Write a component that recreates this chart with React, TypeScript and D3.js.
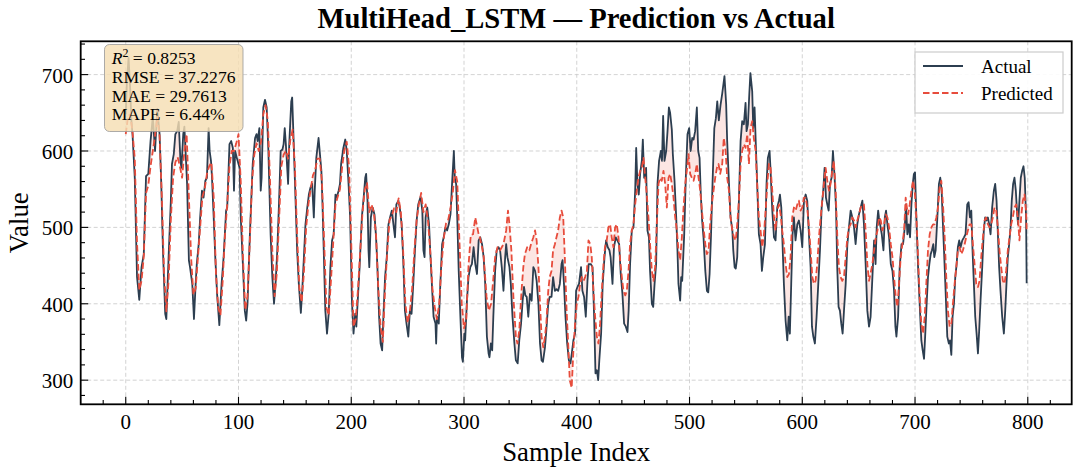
import * as d3 from 'd3';

// [sample index, value]
const actual: [number, number][] = [
  [0, 648], [1, 690], [2.5, 722], [4, 680], [5, 640], [6, 622], [8, 565], [10, 435], [12, 405], [14, 448], [16, 465], [18, 567], [20, 570], [22, 613], [24, 645], [26, 600], [28, 655], [30, 622], [31.5, 557], [33, 470], [35, 387], [36, 380], [38, 461], [40, 535], [41, 583], [42.6, 596], [44, 622], [45.6, 626], [47, 638], [48.5, 587], [49.4, 578], [51, 622], [52, 632], [54.4, 557], [56, 457], [57, 448], [59, 426], [60.5, 380],
  [62, 426], [63, 452], [64.7, 478], [66, 513], [67.6, 548], [69, 539], [70.6, 561], [72, 565], [73.5, 630], [74.4, 600], [75.6, 587], [76.5, 565], [78, 513], [79.4, 461], [81, 413], [83, 372], [85, 426], [86.8, 461], [89, 522], [90, 526], [92, 609], [93.5, 613], [95, 604], [96, 548], [97, 600], [98.5, 591], [100, 583], [101, 578], [102, 513], [104, 448], [105.6, 391], [106.8, 378], [108, 400], [110, 487], [112.6, 583], [114.7, 617], [116, 622], [117, 613], [118.5, 630], [119.7, 548], [120.5, 565], [122, 657], [123.5, 667], [125, 657], [126.5, 600], [128.5, 490],
  [130, 435], [131.5, 400], [133, 430], [134.4, 470], [136, 535], [137.4, 600], [139, 602], [140, 609], [141, 630], [142, 609], [144, 557], [145, 609], [146.8, 665], [147.6, 670], [149, 609], [150.6, 535], [152, 470], [153.5, 426], [155.3, 388], [156.5, 417], [158, 461], [159.4, 504], [161, 526], [162.4, 543], [163.8, 552], [165.3, 557], [166.8, 513], [167.6, 548], [169, 591], [171, 617], [172, 600], [173.5, 574], [174.4, 535], [175.6, 470], [177, 391], [178.5, 361], [180, 387], [181.5, 448], [183, 483], [184.4, 491], [186, 543], [187, 539], [188.8, 548], [190, 557], [191, 583], [193, 604], [194.7, 615], [196, 600], [197.6, 557], [199, 513],
  [200.6, 404], [202, 361], [203.5, 387], [204.5, 370], [205.6, 400], [207.4, 448], [209.4, 513], [211, 539], [212.4, 565], [213.2, 570], [214.4, 535], [215.3, 470], [216, 448], [217.4, 513], [219, 526], [220.6, 517], [222, 487], [223.2, 448], [224.7, 383], [226, 348], [227.4, 339], [228.5, 383], [230, 435], [231.5, 461], [233, 504], [234.4, 513], [236, 522], [237.4, 504], [238.8, 487], [240, 530], [241.8, 535], [243, 526], [244.7, 504], [246, 461], [247.6, 391], [249, 374], [250.6, 357], [252, 391], [253.5, 387], [255, 426], [256.5, 470], [258, 509], [259.4, 530], [261.5, 540],
  [263, 522], [264, 470], [265, 461], [266, 513], [267.4, 526], [269, 504], [270, 470], [271.8, 417], [273, 383], [274.7, 374], [275.3, 348], [276, 383], [277.6, 374], [279, 426], [280.6, 478], [282, 487], [283.5, 500], [285, 496], [286.5, 504], [288, 517], [289.4, 557], [291, 600], [291.8, 565], [293, 557], [294, 513], [295.3, 443], [296.8, 383], [298.2, 330], [299, 324], [300.3, 361], [301, 352], [302.6, 404], [304, 435], [305.6, 448], [307, 452], [308.5, 474], [310, 452], [311.5, 439], [313, 483], [314.4, 487], [316, 478], [317.4, 461], [318.8, 426], [320.3, 357], [321.8, 335], [322.6, 330], [323.8, 348], [325, 339], [326, 383], [327.6, 443], [329, 470], [330.6, 474], [332, 470], [333.5, 448], [335, 417], [336.5, 461], [337.4, 478], [338.5, 461], [340.3, 448], [341.5, 426], [343, 383], [344.7, 348], [346, 326], [347.6, 322], [349, 352],
  [350.6, 374], [352, 404], [353.2, 422], [354.4, 411], [355.6, 409], [357, 383], [358.5, 413], [360, 404], [361.5, 448], [363, 443], [364.4, 430], [366, 400], [367.4, 348], [368.8, 326], [370, 324], [371.8, 343], [373, 365], [374.7, 400], [376, 409], [377.6, 409], [379, 435], [380.6, 417], [382, 419], [383.5, 417], [385, 426], [386.5, 452], [387.4, 457], [388.8, 422], [390, 383], [391.5, 348], [393, 326], [394.4, 322], [395.6, 335], [397, 352], [398.5, 361], [399.4, 417],
  [400.6, 422], [402, 426], [403.8, 448], [405, 417], [406.5, 409], [408, 383], [409.5, 430], [410.6, 452], [412.4, 452], [414, 448], [415.4, 383], [416.6, 309], [417.8, 313], [419, 300], [420, 326], [421.6, 361], [423, 426], [424.6, 461], [426, 483], [427.5, 474], [429, 470], [430, 461], [431.7, 426], [433, 474], [434.6, 487], [436, 483], [437.6, 478], [439, 439], [440.5, 413], [442, 374], [443.5, 370], [445, 363], [446, 391], [447.3, 452], [448.8, 496],
  [450.3, 500], [451.8, 548], [452.7, 604], [453.8, 557], [455, 543], [456.2, 570], [457.7, 587], [458.6, 615], [459.8, 565], [461.5, 578], [462.7, 496], [464, 487], [465, 443], [466.6, 400], [467.8, 396], [469, 426], [470.4, 452], [471.6, 557], [473, 587], [474.6, 600], [475.6, 587], [476.6, 646], [477.8, 587], [479.3, 600], [480.5, 626], [481.7, 657], [482.8, 650], [484.3, 628], [485.2, 596], [486.7, 561], [488.2, 513], [489.3, 470], [490.2, 426], [491.7, 404], [492.6, 435], [493.5, 430], [495.3, 491], [496.7, 565], [498.2, 622], [499.7, 630],
  [501, 600], [502.4, 617], [503.6, 615], [505, 626], [506.5, 657], [507.7, 600], [508.9, 591], [510, 543], [511.2, 509], [512.4, 487], [514, 443], [515.4, 417], [516.6, 415], [517.8, 439], [519, 487], [520.4, 557], [522, 630], [523.4, 643], [524.6, 665], [526, 640], [527.5, 660], [529, 675], [531, 698], [532.5, 661], [533.4, 613], [535, 557], [536.4, 513], [538, 496], [538.8, 470], [540, 448], [541, 446], [542.3, 461], [543.8, 535], [545.3, 613], [546.7, 639], [548.2, 635], [549.7, 663],
  [550.6, 626], [551.8, 635], [553, 674], [554, 702], [555.6, 678], [556.5, 630], [557.7, 657], [559, 600], [560, 557], [561.5, 491], [563, 478], [564.2, 443], [565.4, 461], [566.9, 478], [568.3, 557], [569.5, 591], [571, 600], [571.9, 574], [573.4, 522], [574.9, 487], [576.3, 483], [577.8, 526], [579.3, 535], [580.2, 543], [581.4, 526], [582.5, 478], [583.7, 426], [585.2, 378], [586.7, 352], [587.9, 383], [589, 361], [590.2, 426], [591.4, 491], [592.6, 513], [594, 483], [595.6, 504], [597, 509], [598.5, 496],
  [600, 474], [601.5, 535], [603, 543], [604.4, 535], [605.9, 491], [607.4, 448], [608.6, 370], [609.8, 357], [611.2, 348], [612.7, 383], [614.2, 426], [615.7, 470], [617.2, 526], [618.6, 548], [619.8, 578], [621, 539], [622.2, 530], [623.4, 522], [624.6, 557], [626, 565], [627.2, 600], [628.7, 565], [630, 522], [631, 448], [632.2, 396], [633.4, 391], [634.6, 374], [635.8, 361], [637, 391], [638.5, 426], [640, 478], [641.4, 500], [642.9, 522], [644.4, 513], [645.9, 500], [647.3, 478], [648.8, 504],
  [650.3, 517], [651.8, 526], [653.3, 535], [654.7, 504], [656.2, 452], [657.7, 391], [659.2, 370], [660.6, 383], [662.2, 435], [663.7, 483], [665, 452], [666, 500], [667.3, 522], [668, 513], [669, 504], [670.5, 491], [672, 470], [673.2, 513], [674.3, 522], [675.5, 504], [677, 487], [678.5, 452], [680, 443], [681.4, 417], [682.6, 370], [683.5, 357], [685, 383], [686.4, 448], [688, 478], [689.4, 478], [690.9, 500], [692, 530], [693.2, 491], [694.4, 504], [695.6, 487], [696.8, 530], [698, 557], [699, 570],
  [700, 572], [701.2, 513], [702.7, 448], [704.1, 400], [705.6, 352], [706.8, 339], [708, 328], [709.1, 361], [710.3, 400], [711.5, 435], [712.7, 452], [713.9, 465], [715, 470], [716.2, 478], [717.1, 461], [718.3, 470], [719.8, 513], [721.2, 557], [722.4, 565], [723.6, 548], [724.5, 513], [725.7, 470], [727.1, 417], [728.6, 357], [730, 348], [731, 352], [732.2, 333], [733.3, 383], [734.5, 400], [735.7, 435], [736.9, 452], [738, 474], [739.2, 483], [740.4, 474], [741.9, 483], [743.4, 487], [744.8, 491], [746.3, 530], [747.5, 533], [748.7, 513],
  [749.9, 522], [751, 470], [752.2, 426], [753.4, 383], [754.6, 361], [755.8, 335], [756.9, 365], [758.1, 404], [759.6, 448], [761, 496], [762.2, 513], [763.4, 509], [764.6, 513], [765.8, 504], [767, 491], [768.4, 526], [769.9, 548], [771.1, 557], [772.3, 535], [773.5, 491], [774.6, 448], [775.8, 417], [777.3, 383], [778.8, 361], [780, 391], [781.1, 426], [782.3, 461], [783.5, 478], [784.7, 500], [785.8, 535], [787, 557], [788.2, 565], [789.4, 548], [790.6, 517], [791.4, 504], [792.6, 535], [793.8, 565], [795, 574], [796.2, 580], [797.3, 565], [798.5, 513], [799, 427],
];

const predicted: [number, number][] = [
  [0, 622], [2, 645], [4, 648], [6, 625], [8, 590], [10, 480], [12, 418], [14, 430], [16, 462], [18, 545], [20, 555], [22, 580], [24, 600], [26, 620], [28, 645], [30, 620], [32, 540], [34, 440], [36, 390], [38, 430], [40, 510], [42, 565], [44, 585], [46, 592], [48, 580], [50, 565], [52, 600], [54, 622], [56, 540], [58, 460], [60, 412], [62, 420], [64, 460], [66, 500], [68, 540], [70, 550], [72, 570], [74, 580], [76, 585], [78, 540], [80, 440], [82, 395], [84, 385], [86, 430], [88, 490], [90, 530], [92, 580], [94, 600], [96, 600], [98, 610],
  [100, 622], [102, 560], [104, 460], [106, 392], [108, 410], [110, 480], [112, 560], [114, 595], [116, 610], [118, 600], [120, 612], [122, 648], [124, 660], [126, 640], [128, 560], [130, 470], [132, 410], [134, 440], [136, 510], [138, 580], [140, 595], [142, 600], [144, 590], [146, 615], [148, 628], [150, 580], [152, 490], [154, 420], [156, 402], [158, 440], [160, 500], [162, 530], [164, 550], [166, 568], [168, 575], [170, 590], [172, 590], [174, 560], [176, 480], [178, 395], [180, 385], [182, 430], [184, 480], [186, 530], [188, 540], [190, 550], [192, 580], [194, 602], [196, 612], [198, 580],
  [200, 480], [202, 370], [204, 380], [206, 420], [208, 470], [210, 520], [212, 550], [214, 558], [216, 520], [218, 530], [220, 520], [222, 490], [224, 420], [226, 370], [228, 350], [230, 420], [232, 470], [234, 510], [236, 515], [238, 525], [240, 520], [242, 538], [244, 520], [246, 470], [248, 400], [250, 375], [252, 390], [254, 420], [256, 470], [258, 510], [260, 530], [262, 545], [264, 520], [266, 530], [268, 510], [270, 470], [272, 420], [274, 396], [276, 380], [278, 400], [280, 450], [282, 485], [284, 505], [286, 510], [288, 525], [290, 545], [292, 575], [294, 560], [296, 480], [298, 400],
  [300, 368], [302, 380], [304, 450], [306, 490], [308, 491], [310, 513], [313, 491], [314, 487], [316, 474], [317.5, 461], [320, 409], [322, 391], [324, 400], [325.6, 426], [327.6, 461], [329.7, 474], [332, 470], [335, 478], [337.4, 496], [339, 522], [340.3, 504], [342, 470], [343.8, 409], [346, 357], [347.4, 348], [349, 365], [351, 417], [352.6, 448], [354, 465], [356, 474], [358, 470], [359.4, 478], [361.5, 487], [363, 496], [364.4, 483], [366, 448], [367.4, 400], [368.8, 357], [370.3, 343], [371.8, 357], [373, 374], [374.7, 417], [376, 435], [377.6, 443], [379, 470], [380.6, 478], [382, 487], [383.5, 496], [385, 513], [386.5, 522], [388, 513], [389.4, 461], [391, 391], [392.4, 348], [393.8, 300], [395.5, 290], [397, 339], [398.5, 374],
  [400, 400], [401.5, 409], [403, 426], [404.4, 435], [406, 430], [407.4, 435], [409, 443], [410.4, 483], [412, 478], [413.3, 461], [414.8, 417], [416.3, 383], [417.8, 357], [419.2, 348], [420.7, 374], [422.2, 417], [423.7, 452], [425, 474], [426.6, 483], [428, 500], [429.6, 504], [431, 487], [432.5, 474], [434, 500], [435.5, 504], [437, 487], [438.5, 457], [440, 435], [441.4, 417], [443, 411], [444.4, 417], [445.9, 443], [447.3, 478], [448.8, 496],
  [450.3, 504], [451.8, 530], [453.2, 548], [454.7, 565], [456.2, 574], [457.7, 578], [459.2, 591], [460.7, 565], [462.1, 543], [463.6, 513], [465, 478], [466.6, 443], [468, 430], [469.5, 448], [471, 504], [472.5, 557], [474, 565], [475.4, 561], [476.9, 574], [478.4, 557], [479.9, 526], [481.4, 565], [482.8, 570], [484.3, 557], [485.8, 539], [487.3, 513], [488.8, 496], [490.2, 470], [491.7, 457], [493.2, 487], [494.7, 526], [496.2, 557], [497.6, 574], [499.1, 596],
  [500.6, 570], [502, 565], [503.6, 561], [505, 570], [506.5, 583], [508, 565], [509.5, 548], [511, 522], [512.4, 500], [514, 478], [515.4, 465], [516.9, 470], [518.3, 504], [519.8, 530], [521.3, 548], [522.8, 565], [524.3, 578], [525.7, 583], [527.2, 570], [529, 583], [530.4, 617], [532, 600], [533.4, 565], [535, 548], [536.4, 513], [538, 496], [539.4, 487], [541, 483], [542.3, 504], [543.8, 535], [545.3, 583], [546.7, 600], [548.2, 609], [549.7, 604],
  [551.2, 622], [552.7, 583], [554.1, 630], [555.6, 639], [557, 617], [558.6, 600], [560, 557], [561.5, 513], [563, 496], [564.5, 474], [566, 491], [567.5, 522], [569, 557], [570.4, 583], [571.9, 578], [573.4, 548], [574.9, 513], [576.3, 496], [577.8, 522], [579.3, 530], [580.8, 517], [582.2, 496], [583.7, 478], [585.2, 452], [586.7, 435], [588.2, 439], [589.6, 461], [591.1, 513], [592.6, 526], [594.1, 522], [595.6, 530], [597, 535], [598.5, 522],
  [600, 526], [601.5, 539], [603, 539], [604.4, 526], [605.9, 500], [607.4, 470], [608.9, 435], [610.4, 426], [611.8, 430], [613.3, 452], [614.8, 487], [616.3, 513], [617.7, 535], [619.2, 557], [620.7, 578], [622.2, 561], [623.7, 548], [625.1, 557], [626.6, 574], [628, 587], [629.6, 548], [631.1, 487], [632.5, 448], [634, 435], [635.5, 430], [637, 435], [638.5, 461], [640, 487], [641.4, 500], [642.9, 504], [644.4, 513], [645.9, 509], [647.3, 500], [648.8, 509],
  [650.3, 517], [651.8, 526], [653.3, 530], [654.7, 530], [656.2, 496], [657.7, 452], [659.2, 430], [660.6, 440], [662.2, 452], [663.7, 470], [665.2, 487], [666.7, 496], [668.1, 513], [669.6, 509], [671, 496], [672.6, 504], [674, 517], [675.5, 513], [677, 500], [678.5, 478], [680, 461], [681.4, 435], [682.9, 409], [684.4, 396], [685.8, 426], [687.3, 461], [688.8, 478], [690.3, 496], [691.7, 539], [692.8, 526], [693.8, 517], [695.3, 530], [696.8, 548], [698.2, 561], [699.7, 548],
  [701.2, 513], [702.7, 461], [704.1, 409], [705.6, 374], [707.1, 361], [708.6, 383], [710, 426], [711.5, 470], [713, 491], [714.5, 500], [716, 504], [717.4, 504], [718.9, 513], [720.4, 526], [721.8, 552], [723.3, 561], [724.8, 530], [726.3, 487], [727.7, 435], [729.2, 391], [730.7, 370], [732.2, 374], [733.6, 400], [735.1, 426], [736.6, 448], [738, 470], [739.5, 474], [741, 465], [742.5, 470], [744, 478], [745.4, 487], [746.9, 496], [748.4, 504],
  [749.9, 504], [751.3, 478], [752.8, 452], [754.3, 426], [755.8, 422], [757.2, 430], [758.7, 461], [760.2, 487], [761.7, 509], [763.1, 513], [764.6, 504], [766.1, 500], [767.6, 504], [769, 513], [770.5, 526], [772, 522], [773.5, 500], [774.9, 470], [776.4, 448], [777.9, 430], [779.4, 426], [780.8, 443], [782.3, 470], [783.8, 487], [785.3, 504], [786.7, 513], [788.2, 526], [789.7, 530], [791.2, 513], [792.6, 483], [794.1, 513], [795.6, 535], [797.1, 543], [798.5, 522], [799, 496],
];

const xTickValues = [0, 100, 200, 300, 400, 500, 600, 700, 800];
const yTickValues = [300, 400, 500, 600, 700];
const metrics = { r2: '0.8253', rmse: '37.2276', mae: '29.7613', mape: '6.44%' };

const FONT = '"Liberation Serif", "Times New Roman", Times, serif';
const ACTUAL_COLOR = '#2c3e50';
const PRED_COLOR = '#e74c3c';

export default function App() {
  const width = 1080;
  const height = 474;
  const margin = { top: 41.3, right: 8.3, bottom: 69.7, left: 80.7 };
  const x0 = margin.left;
  const x1 = width - margin.right;
  const y0 = margin.top;
  const y1 = height - margin.bottom;

  // matplotlib-like 5% margins around the data
  const nSamples = 799;
  const allValues = [...actual, ...predicted].map((d) => d[1]);
  const vMin = d3.min(allValues)!;
  const vMax = d3.max(allValues)!;
  const vPad = (vMax - vMin) * 0.05;

  const x = d3.scaleLinear().domain([-nSamples * 0.05, nSamples * 1.05]).range([x0, x1]);
  const y = d3.scaleLinear().domain([vMin - vPad, vMax + vPad]).range([y1, y0]);

  const line = d3
    .line<[number, number]>()
    .x((d) => x(d[0]))
    .y((d) => y(d[1]));

  // region between the two curves: actual forward, predicted back
  const band = line([...actual, ...predicted.slice().reverse()]) + 'Z';

  const [dx0, dx1] = x.domain();
  const [dy0, dy1] = y.domain();
  const xMinor = d3.range(-20, 841, 20).filter((v) => v % 100 !== 0 && v > dx0 && v < dx1);
  const yMinor = d3.range(280, 741, 20).filter((v) => v % 100 !== 0 && v > dy0 && v < dy1);

  return (
    <svg
      width={width}
      height={height}
      style={{ position: 'absolute', left: 0, top: 0, background: '#fff' }}
      fontFamily={FONT}
    >
      <defs>
        <clipPath id="plot-clip">
          <rect x={x0} y={y0} width={x1 - x0} height={y1 - y0} />
        </clipPath>
      </defs>

      {/* grid */}
      <g stroke="#c8c8c8" strokeWidth={0.8} strokeDasharray="4,2.5">
        {xTickValues.map((v) => (
          <line key={'gx' + v} x1={x(v)} x2={x(v)} y1={y0} y2={y1} />
        ))}
        {yTickValues.map((v) => (
          <line key={'gy' + v} x1={x0} x2={x1} y1={y(v)} y2={y(v)} />
        ))}
      </g>

      <g clipPath="url(#plot-clip)">
        <path d={band} fill={PRED_COLOR} fillOpacity={0.14} stroke="none" />
        <path d={line(actual)!} fill="none" stroke={ACTUAL_COLOR} strokeWidth={1.8} strokeLinejoin="round" />
        <path
          d={line(predicted)!}
          fill="none"
          stroke={PRED_COLOR}
          strokeWidth={1.8}
          strokeDasharray="6.5,3"
          strokeLinejoin="round"
        />
      </g>

      {/* ticks, pointing inward */}
      <g stroke="#000" strokeWidth={1.1}>
        {xTickValues.map((v) => (
          <line key={'tx' + v} x1={x(v)} x2={x(v)} y1={y1} y2={y1 - 7.5} />
        ))}
        {xMinor.map((v) => (
          <line key={'mx' + v} x1={x(v)} x2={x(v)} y1={y1} y2={y1 - 4.3} />
        ))}
        {yTickValues.map((v) => (
          <line key={'ty' + v} x1={x0} x2={x0 + 7.5} y1={y(v)} y2={y(v)} />
        ))}
        {yMinor.map((v) => (
          <line key={'my' + v} x1={x0} x2={x0 + 4.3} y1={y(v)} y2={y(v)} />
        ))}
      </g>

      <rect x={x0} y={y0} width={x1 - x0} height={y1 - y0} fill="none" stroke="#000" strokeWidth={1.8} />

      {/* tick labels */}
      <g fontSize={21} fill="#000">
        {xTickValues.map((v) => (
          <text key={'lx' + v} x={x(v)} y={y1 + 24.5} textAnchor="middle">
            {v}
          </text>
        ))}
        {yTickValues.map((v) => (
          <text key={'ly' + v} x={x0 - 7.5} y={y(v) + 8} textAnchor="end">
            {v}
          </text>
        ))}
      </g>

      {/* axis labels and title */}
      <text x={(x0 + x1) / 2} y={461} textAnchor="middle" fontSize={26.8}>
        Sample Index
      </text>
      <text transform={`translate(28,${(y0 + y1) / 2}) rotate(-90)`} textAnchor="middle" fontSize={26.8}>
        Value
      </text>
      <text x={(x0 + x1) / 2} y={28} textAnchor="middle" fontSize={28.6} fontWeight="bold">
        MultiHead_LSTM — Prediction vs Actual
      </text>

      {/* metrics box */}
      <g>
        <rect x={104.5} y={44.5} width={138.5} height={87} rx={5} fill="#f5deb3" fillOpacity={0.82} stroke="#999" strokeOpacity={0.8} />
        <g fontSize={17.6} fill="#000">
          <text x={111.7} y={64}>
            <tspan fontStyle="italic">R</tspan>
            <tspan fontSize={12} dy={-7}>2</tspan>
            <tspan dy={7}>{' = ' + metrics.r2}</tspan>
          </text>
          <text x={111.7} y={82.7}>{'RMSE = ' + metrics.rmse}</text>
          <text x={111.7} y={101.5}>{'MAE = ' + metrics.mae}</text>
          <text x={111.7} y={120.2}>{'MAPE = ' + metrics.mape}</text>
        </g>
      </g>

      {/* legend */}
      <g>
        <rect x={915} y={52} width={148} height={61} fill="#fff" fillOpacity={0.9} stroke="#cccccc" strokeWidth={1.2} />
        <line x1={923} x2={963} y1={66} y2={66} stroke={ACTUAL_COLOR} strokeWidth={1.8} />
        <line x1={923} x2={963} y1={93} y2={93} stroke={PRED_COLOR} strokeWidth={1.8} strokeDasharray="6.5,3" />
        <g fontSize={19} fill="#000">
          <text x={981} y={72.5}>Actual</text>
          <text x={981} y={99.5}>Predicted</text>
        </g>
      </g>
    </svg>
  );
}
